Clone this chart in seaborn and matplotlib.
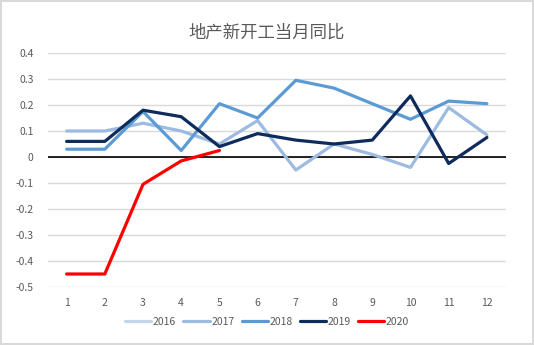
import numpy as np
import pandas as pd
import matplotlib
matplotlib.use("Agg")
import matplotlib.pyplot as plt
import seaborn as sns

months = list(range(1, 13))
years = ["2016", "2017", "2018", "2019", "2020"]
v2016 = [np.nan] * 12
v2017 = [0.10, 0.10, 0.13, 0.10, 0.05, 0.14, -0.05, 0.05, 0.01, -0.04, 0.19, 0.085]
v2018 = [0.03, 0.03, 0.175, 0.025, 0.205, 0.15, 0.295, 0.265, 0.205, 0.145, 0.215, 0.205]
v2019 = [0.06, 0.06, 0.18, 0.155, 0.04, 0.09, 0.065, 0.05, 0.065, 0.235, -0.025, 0.075]
v2020 = [-0.45, -0.45, -0.105, -0.015, 0.025] + [np.nan] * 7
colors = ["#C5D5EA", "#9DBBE0", "#5B9BD5", "#0F2B5B", "#FF0000"]

series = [v2016, v2017, v2018, v2019, v2020]
df = pd.DataFrame({
    "month": months * len(years),
    "year": [y for y in years for _ in months],
    "value": [v for s in series for v in s],
})

sns.set_theme(style="white")
plt.rcParams['font.family'] = ['Noto Sans CJK SC', 'DejaVu Sans']

fig = plt.figure(figsize=(5.34, 3.45), dpi=100)
fig.patch.set_edgecolor("#D9D9D9")
fig.patch.set_linewidth(1.5)
ax = fig.add_axes([47.5 / 534, 1 - 287 / 345, (506 - 47.5) / 534, (287 - 53) / 345])

sns.lineplot(data=df, x="month", y="value", hue="year", hue_order=years,
             palette=colors, linewidth=2.3, ax=ax, legend=False, sort=False)

ax.set_xlim(0.5, 12.5)
ax.set_ylim(-0.5, 0.4)
yt = [0.4, 0.3, 0.2, 0.1, 0, -0.1, -0.2, -0.3, -0.4, -0.5]
ax.set_yticks(yt)
ax.set_yticklabels([("%g" % t) for t in yt])
ax.set_xticks(months)
ax.set_xticklabels([str(m) for m in months])
ax.tick_params(axis="both", length=0, labelsize=7.5, labelcolor="#595959")
ax.tick_params(axis="y", pad=10)
ax.tick_params(axis="x", pad=8)
ax.grid(axis="y", color="#D9D9D9", linewidth=1)
ax.set_axisbelow(True)
for s in ax.spines.values():
    s.set_visible(False)
ax.axhline(0, color="black", linewidth=1.2, zorder=1.5)
ax.set_xlabel("")
ax.set_ylabel("")

fig.text(0.5, 1 - 33 / 345, "地产新开工当月同比", ha="center", va="center",
         fontsize=12.5, color="#595959")

from matplotlib.lines import Line2D
handles = [Line2D([0], [0], color=c, linewidth=2.3) for c in colors]
fig.legend(handles, years, loc="center", bbox_to_anchor=(0.5, 1 - 322 / 345),
           ncol=5, frameon=False, fontsize=7.5, labelcolor="#595959",
           handlelength=2.5, handletextpad=0.15, columnspacing=0.7)

fig.savefig("out.png", dpi=100)
